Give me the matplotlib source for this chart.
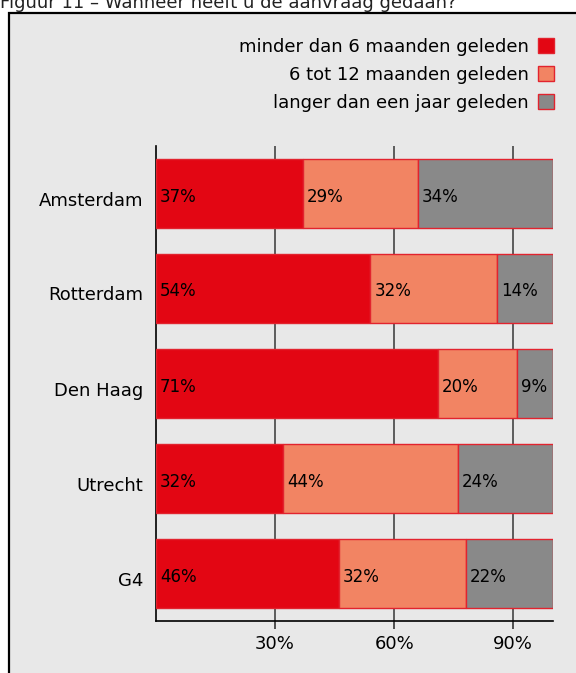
import numpy as np
import matplotlib
matplotlib.use("Agg")
import matplotlib.pyplot as plt
from matplotlib.patches import Patch, Rectangle
from matplotlib.transforms import ScaledTranslation

# data
cities = ["Amsterdam", "Rotterdam", "Den Haag", "Utrecht", "G4"]
minder_6 = [37, 54, 71, 32, 46]
tot_12 = [29, 32, 20, 44, 32]
langer = [34, 14, 9, 24, 22]
series_names = ["minder dan 6 maanden geleden",
                "6 tot 12 maanden geleden",
                "langer dan een jaar geleden"]
x_ticks = [30, 60, 90]
title = "Figuur 11 \u2013 Wanneer heeft u de aanvraag gedaan?"

colors = ["#e30613", "#f28463", "#898989"]
edge = "#e2232e"

W, H = 576, 673
fig = plt.figure(figsize=(W / 100, H / 100), dpi=100)
fig.patch.set_facecolor("white")

# grey panel with black border, running off the right and bottom edge
panel = Rectangle((9 / W, -0.02), 1.0, 1 - 13 / H + 0.02, transform=fig.transFigure,
                  facecolor="#e8e8e8", edgecolor="black", linewidth=1.6, zorder=-5)
fig.patches.append(panel)

# title, cut off at the top like in the reference
fig.text(0 / W, 1 - 8 / H, title, ha="left", va="baseline", fontsize=13, color="#222222")

ax = fig.add_axes([156 / W, 1 - 621 / H, (553 - 156) / W, (621 - 146) / H], zorder=2)
ax.set_facecolor("#e8e8e8")

# labels sit a few pixels below the bar centre in the reference
down = ScaledTranslation(0, -3 / 100, fig.dpi_scale_trans)

y = np.arange(len(cities))
left = np.zeros(len(cities))
for vals, col in zip([minder_6, tot_12, langer], colors):
    vals = np.array(vals, dtype=float)
    ax.barh(y, vals, left=left, height=0.72, color=col, edgecolor=edge,
            linewidth=1.0, zorder=3)
    for yi, (l, v) in enumerate(zip(left, vals)):
        ax.text(l + 1.0, yi, f"{int(v)}%", ha="left", va="center",
                fontsize=12, color="black", zorder=4,
                transform=ax.transData + down)
    left += vals

ax.set_xlim(0, 100)
ax.set_ylim(4.5, -0.5)
ax.set_yticks(y)
ax.set_yticklabels(cities, fontsize=13)
ax.tick_params(axis="y", length=0, pad=9)
for lbl in ax.get_yticklabels():
    lbl.set_transform(lbl.get_transform() + ScaledTranslation(0, -5 / 100, fig.dpi_scale_trans))
ax.set_xticks(x_ticks)
ax.set_xticklabels([f"{t}%" for t in x_ticks], fontsize=13)
ax.tick_params(axis="x", length=6, width=1.2, color="#333333", pad=4)
ax.grid(axis="x", color="#444444", linewidth=1.2, zorder=1)
ax.set_axisbelow(True)
for s in ["top", "right"]:
    ax.spines[s].set_visible(False)
ax.spines["left"].set_linewidth(1.2)
ax.spines["bottom"].set_linewidth(1.2)

handles = [Patch(facecolor=c, edgecolor=edge, linewidth=1.0) for c in colors]
fig.legend(handles, series_names, loc="upper right",
           bbox_to_anchor=(554 / W, 1 - 38 / H), frameon=False, markerfirst=False,
           fontsize=13, handlelength=0.9, handleheight=0.9, handletextpad=0.5,
           labelspacing=0.55, borderaxespad=0, borderpad=0)

fig.savefig("out.png", dpi=100)
